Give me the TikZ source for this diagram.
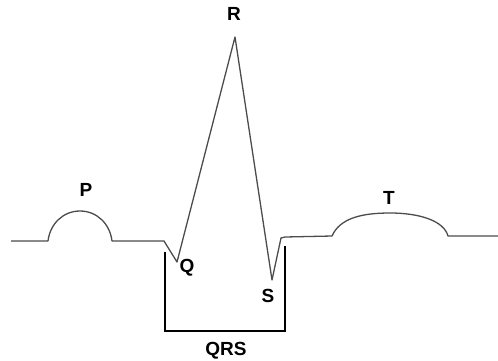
\documentclass[tikz,border=0pt]{standalone}
\usepackage{fontspec}
\setmainfont{Liberation Sans}
\usetikzlibrary{positioning}

\begin{document}
\begin{tikzpicture}[x=0.5pt, y=-0.5pt,
  % thin grey trace of the wave
  wave/.style={draw=black!70, line width=0.65pt, line join=round},
  % the QRS bracket underneath
  bracket/.style={draw=black, line width=1.1pt},
  % letters of the waves
  wavelabel/.style={font=\fontsize{9.5}{11}\selectfont\bfseries, text=black, inner sep=0pt}
]
\useasboundingbox (0,0) rectangle (498,360);

% points of the trace
\coordinate (start) at (11,241);
\coordinate (Pa)    at (48,241);
\coordinate (Pb)    at (112,241);
\coordinate (Qa)    at (164,241);
\coordinate (Qp)    at (177,262);
\coordinate (Rp)    at (235,37);
\coordinate (Sp)    at (272,280);
\coordinate (Sa)    at (281,238);
\coordinate (Ta)    at (332,236);
\coordinate (Tb)    at (448,236);
\coordinate (stop)  at (498,236);

% the trace
\draw[wave] (start) -- (Pa)
  .. controls (50,224) and (63,211) .. (80,211)
  .. controls (97,211) and (110,224) .. (Pb)
  -- (Qa) -- (Qp) -- (Rp) -- (Sp) -- (Sa) -- (285,237) -- (Ta)
  .. controls (340,218) and (362,213) .. (390,213)
  .. controls (420,213) and (444,221) .. (Tb)
  -- (stop);

% bracket corners
\coordinate (bl) at (165,252);
\coordinate (br) at (285,246);
\draw[bracket] (bl) -- (165,331) -- (285,331) -- (br);

% labels
\node[wavelabel] (P)   at (86,190)  {P};
\node[wavelabel] (R)   at (234,14)  {R};
\node[wavelabel] (Q)   at (187,268) {Q};
\node[wavelabel] (S)   at (268,296) {S};
\node[wavelabel] (T)   at (389,198) {T};
\node[wavelabel] (QRS) at (226,351) {QRS};

\end{tikzpicture}
\end{document}
